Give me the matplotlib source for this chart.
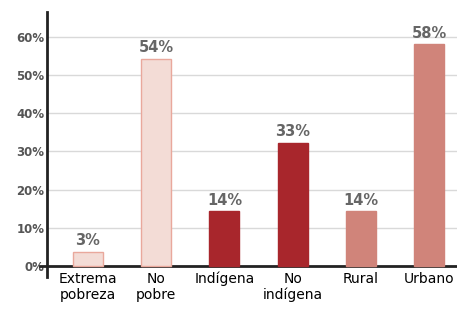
import matplotlib
matplotlib.use('Agg')
import matplotlib.pyplot as plt
import numpy as np

# datos
categorias = ['Extrema\npobreza', 'No\npobre', 'Indígena', 'No\nindígena', 'Rural', 'Urbano']
valores = [3.8, 54.3, 14.3, 32.3, 14.3, 58.1]
etiquetas = ['3%', '54%', '14%', '33%', '14%', '58%']
colores = ['#F3DCD6', '#F3DCD6', '#A8262C', '#A8262C', '#D0847A', '#D0847A']
bordes = ['#E9A89C', '#E9A89C', '#A8262C', '#A8262C', '#D0847A', '#D0847A']
yticks = [0, 10, 20, 30, 40, 50, 60]

fig = plt.figure(figsize=(4.57, 3.10), dpi=100)
ax = fig.add_axes([0.103, 0.106, 0.897, 0.855])

x = np.arange(len(categorias))
ax.bar(x, valores, width=0.44, color=colores, edgecolor=bordes, linewidth=1, zorder=3)

for xi, v, t in zip(x, valores, etiquetas):
    ax.annotate(t, (xi, v), xytext=(0, 2.5), textcoords='offset points',
                ha='center', va='bottom', fontsize=10.5, fontweight='bold', color='#666666')

ax.set_xlim(-0.6, 5.41)
ax.set_ylim(-2.9, 66.5)
ax.set_yticks(yticks)
ax.set_yticklabels([f'{t}%' for t in yticks], fontsize=8.5, fontweight='bold', color='#555555')
ax.tick_params(axis='y', length=0, pad=2)
ax.yaxis.grid(True, color='#d9d9d9', linewidth=1, zorder=0)

ax.set_xticks(x)
ax.set_xticklabels(categorias, fontsize=13.5, family=['Liberation Sans Narrow', 'Liberation Sans', 'DejaVu Sans'],
                   linespacing=0.8, color='#222222')
ax.tick_params(axis='x', length=0, pad=4)

for s in ['top', 'right']:
    ax.spines[s].set_visible(False)
ax.spines['bottom'].set_position(('data', 0))
ax.spines['bottom'].set_bounds(-0.7, 5.41)
ax.spines['bottom'].set_linewidth(2)
ax.spines['bottom'].set_color('#222222')
ax.spines['left'].set_linewidth(2)
ax.spines['left'].set_color('#222222')

fig.savefig('out.png', dpi=100)
